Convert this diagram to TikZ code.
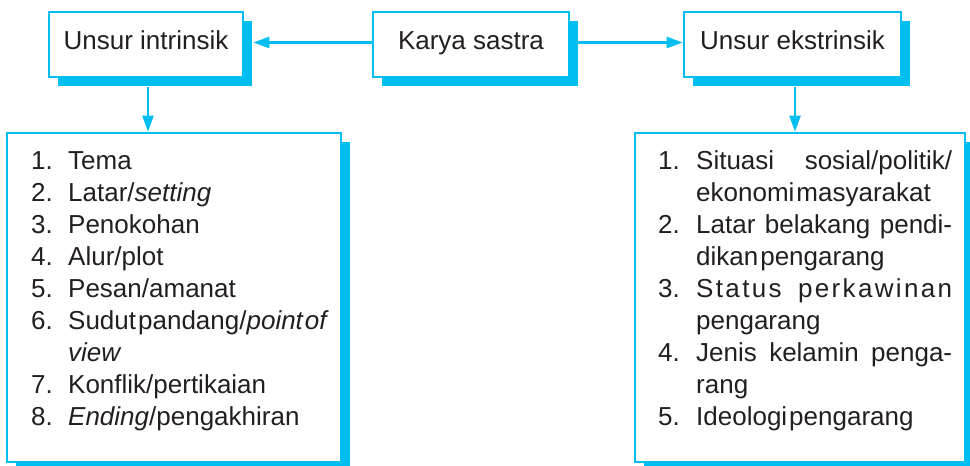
\documentclass[tikz,border=0pt]{standalone}
\usepackage{fontspec}
\setmainfont{Liberation Sans}
\usetikzlibrary{arrows.meta,shadows}
\definecolor{skyc}{HTML}{00BEF0}
\definecolor{ink}{HTML}{231F20}
\newcommand{\tsp}{\hspace{2pt}}
\newcommand{\lst}[1]{\parbox[t]{320pt}{\fontsize{26}{32}\selectfont\raggedright #1}}
\begin{document}
\begin{tikzpicture}[x=1pt,y=-1pt,
  box/.style={draw=skyc, line width=2.6pt, fill=white, inner sep=0pt,
    drop shadow={shadow xshift=9pt, shadow yshift=-9pt, fill=skyc, opacity=1}},
  head/.style={box, font=\fontsize{26}{31}\selectfont, text=ink, text height=19pt, text depth=9pt, minimum height=65pt},
  conn/.style={skyc, line width=2.4pt, -{Triangle[length=16pt,width=11pt]}},
  listtxt/.style={anchor=base west, inner sep=0pt, text=ink}
]
\useasboundingbox (0,0) rectangle (970,466);

\node[head, minimum width=194pt] (A) at (146,44.5) {Unsur intrinsik};
\node[head, minimum width=196pt] (K) at (471,44.5) {Karya sastra};
\node[head, minimum width=217pt] (E) at (792.5,44.5) {Unsur ekstrinsik};

\node[box, minimum width=334pt, minimum height=329pt] (L) at (174,297.5) {};
\node[box, minimum width=330pt, minimum height=329pt] (R) at (800,297.5) {};

\coordinate (Ltip) at ([xshift=9pt,yshift=2pt]A.east);
\draw[conn] ([yshift=2pt]K.west) -- (Ltip);
\draw[conn] ([yshift=2pt]K.east) -- ([yshift=2pt]E.west);
\draw[conn] ([xshift=2pt,yshift=-9pt]A.south) -- ([xshift=2pt]A.south |- L.north);
\draw[conn] ([xshift=2.5pt,yshift=-9pt]E.south) -- ([xshift=2.5pt]E.south |- R.north);

\node[listtxt] (Ltext) at (31,169) {\lst{%
\makebox[37pt][l]{1.}Tema\\
\makebox[37pt][l]{2.}Latar/\textit{setting}\\
\makebox[37pt][l]{3.}Penokohan\\
\makebox[37pt][l]{4.}Alur/plot\\
\makebox[37pt][l]{5.}Pesan/amanat\\
\makebox[37pt][l]{6.}Sudut\tsp pandang/\textit{point\tsp of}\\
\makebox[37pt][l]{}\textit{view}\\
\makebox[37pt][l]{7.}Konflik/pertikaian\\
\makebox[37pt][l]{8.}\textit{Ending}/pengakhiran}};

\node[listtxt] (Rtext) at (658,169) {\lst{%
\makebox[38pt][l]{1.}\makebox[256pt]{Situasi\hfill sosial/politik/}\\
\makebox[38pt][l]{}ekonomi\tsp masyarakat\\
\makebox[38pt][l]{2.}\makebox[256pt]{Latar\hfill belakang\hfill pendi-}\\
\makebox[38pt][l]{}dikan\tsp pengarang\\
\makebox[38pt][l]{3.}\makebox[256pt]{S\hfill t\hfill a\hfill t\hfill u\hfill s\hskip 0pt plus 7fill p\hfill e\hfill r\hfill k\hfill a\hfill w\hfill i\hfill n\hfill a\hfill n}\\
\makebox[38pt][l]{}pengarang\\
\makebox[38pt][l]{4.}\makebox[256pt]{Jenis\hfill kelamin\hfill penga-}\\
\makebox[38pt][l]{}rang\\
\makebox[38pt][l]{5.}Ideologi\tsp pengarang}};
\end{tikzpicture}
\end{document}
